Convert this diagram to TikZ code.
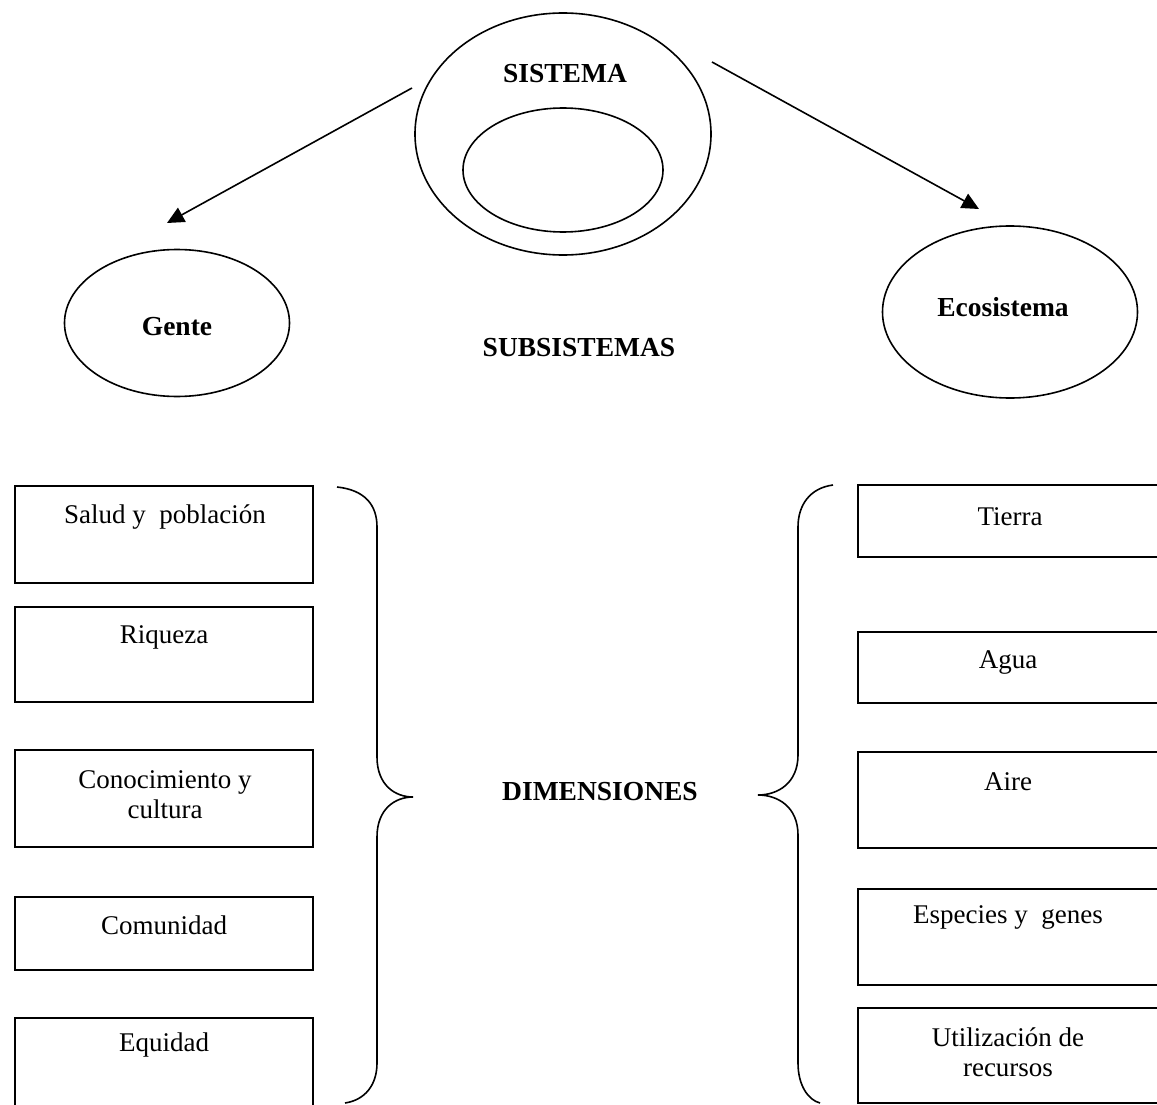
\documentclass[tikz,border=0pt]{standalone}
\usepackage{fontspec}
\setmainfont{Liberation Serif}
\usetikzlibrary{arrows.meta,shapes.geometric}
\begin{document}
\begin{tikzpicture}[x=1pt,y=-1pt,
  line width=1.6pt,
  txt/.style={font=\fontsize{27}{30}\selectfont, align=center, inner sep=0pt},
  ttl/.style={font=\fontsize{27.5}{30}\selectfont\bfseries, inner sep=0pt},
  oval/.style={draw, ellipse, inner sep=0pt, outer sep=0pt},
  box/.style={draw, rectangle, inner sep=0pt, outer sep=0pt},
  arr/.style={-{Triangle[length=17pt,width=16pt]}}]
\useasboundingbox (0,0) rectangle (1157,1105);
\clip (0,0) rectangle (1157,1105);

% system and its subsystem
\node[oval, minimum width=296, minimum height=242] (sis) at (563,134) {};
\node[oval, minimum width=200, minimum height=124] (sub) at (563,170) {};
\node[ttl] (sisT) at (565,74) {SISTEMA};

% the two subsystems
\node[oval, minimum width=225, minimum height=147] (gente) at (177,323) {};
\node[ttl] (genteT) at (177,327) {Gente};
\node[oval, minimum width=255, minimum height=172] (eco) at (1010,312) {};
\node[ttl] (ecoT) at (1003,307) {Ecosistema};
\node[ttl] (subsT) at (579,348) {SUBSISTEMAS};

% arrows from the system to the subsystems
\coordinate (aL0) at (412,88);
\coordinate (aL1) at (167,223);
\coordinate (aR0) at (712,62);
\coordinate (aR1) at (979,209);
\draw[arr] (aL0) -- (aL1);
\draw[arr] (aR0) -- (aR1);

% dimensions of people
\node[box, minimum width=298, minimum height=97]  (g1) at (164,534.5) {};
\node[box, minimum width=298, minimum height=95]  (g2) at (164,654.5) {};
\node[box, minimum width=298, minimum height=97]  (g3) at (164,798.5) {};
\node[box, minimum width=298, minimum height=73]  (g4) at (164,933.5) {};
\node[box, minimum width=298, minimum height=112] (g5) at (164,1074) {};
\node[txt] (g1T) at (165,517) {Salud y\ \ población};
\node[txt] (g2T) at (164,637) {Riqueza};
\node[txt] (g3T) at (165,795) {Conocimiento y\\cultura};
\node[txt] (g4T) at (164,925) {Comunidad};
\node[txt] (g5T) at (164,1045) {Equidad};

% dimensions of the ecosystem
\node[box, minimum width=322, minimum height=72] (e1) at (1019,521) {};
\node[box, minimum width=322, minimum height=71] (e2) at (1019,667.5) {};
\node[box, minimum width=322, minimum height=96] (e3) at (1019,800) {};
\node[box, minimum width=322, minimum height=96] (e4) at (1019,937) {};
\node[box, minimum width=322, minimum height=95] (e5) at (1019,1055.5) {};
\node[txt] (e1T) at (1010,517) {Tierra};
\node[txt] (e2T) at (1008,662) {Agua};
\node[txt] (e3T) at (1008,782) {Aire};
\node[txt] (e4T) at (1008,917) {Especies y\ \ genes};
\node[txt] (e5T) at (1008,1052) {Utilización de\\recursos};

% central label and braces
\node[ttl] (dimT) at (600,792) {DIMENSIONES};
\draw (337,487) .. controls (365,490) and (377,505) .. (377,527)
  -- (377,757) .. controls (377,785) and (395,797) .. (413,797)
  .. controls (395,797) and (377,809) .. (377,837)
  -- (377,1063) .. controls (377,1085) and (365,1100) .. (345,1103);
\draw (833,485) .. controls (810,488) and (798,505) .. (798,527)
  -- (798,755) .. controls (798,783) and (778,795) .. (758,795)
  .. controls (778,795) and (798,807) .. (798,835)
  -- (798,1063) .. controls (798,1085) and (808,1100) .. (820,1103);
\end{tikzpicture}
\end{document}
